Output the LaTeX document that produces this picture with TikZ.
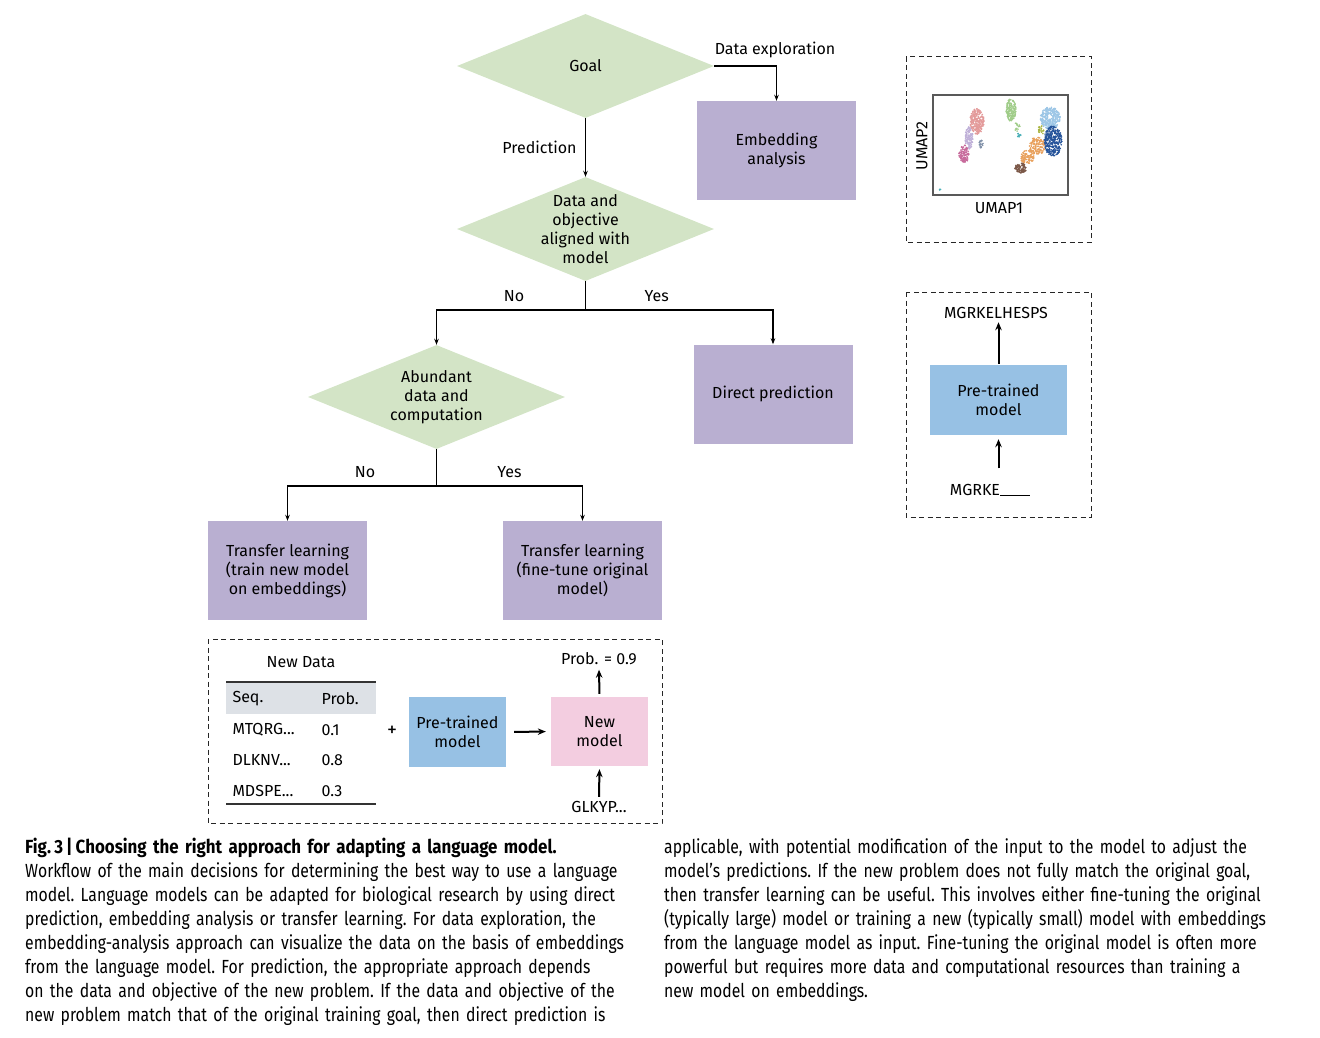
\documentclass[tikz,border=0pt]{standalone}
\usepackage{fontspec}
\setmainfont{Fira Sans}
\newfontfamily\capfont[FakeStretch=0.83,WordSpace=0.62]{Fira Sans}
\newfontfamily\captitle[FakeStretch=0.89,WordSpace=0.62]{Fira Sans}
\usetikzlibrary{shapes.geometric,arrows.meta,positioning}
\definecolor{goalgreen}{HTML}{D3E4C6}
\definecolor{outlav}{HTML}{B9AFD1}
\definecolor{ptblue}{HTML}{97C1E4}
\definecolor{newpink}{HTML}{F3CDE0}
\definecolor{headgray}{HTML}{DDE1E6}
\definecolor{umsalmon}{HTML}{E39A9A}
\definecolor{umlav}{HTML}{BFB0D8}
\definecolor{ummag}{HTML}{C76A9B}
\definecolor{umslate}{HTML}{8090A8}
\definecolor{umgreen}{HTML}{9FCC88}
\definecolor{umteal}{HTML}{4BB0B8}
\definecolor{umlblue}{HTML}{9CC6E6}
\definecolor{umdblue}{HTML}{25539A}
\definecolor{umolive}{HTML}{A8B440}
\definecolor{umorange}{HTML}{E8A05C}
\definecolor{umbrown}{HTML}{7B5848}
\tikzstyle{decision}=[diamond,aspect=2.47,fill=goalgreen,minimum width=257pt,minimum height=104pt,inner xsep=0pt,inner ysep=-3pt,align=center]
\tikzstyle{outcome}=[rectangle,fill=outlav,minimum width=159pt,minimum height=99pt,align=center]
\tikzstyle{model}=[rectangle,minimum width=97pt,minimum height=70pt,align=center]
\tikzstyle{flow}=[-{Stealth[length=6pt,width=4.5pt]},line width=1.1pt]
\tikzstyle{bigarrow}=[-{Stealth[length=8pt,width=6.5pt]},line width=2pt]
\tikzstyle{frame}=[line width=1pt,dash pattern=on 5pt off 3.5pt,draw=black!85]
\tikzstyle{rule}=[line width=1.3pt,draw=black!80]

\begin{document}
\begin{tikzpicture}[x=1pt,y=-1pt,font=\fontsize{16}{19}\selectfont]
\useasboundingbox (0,0) rectangle (1320,1038);

% decision tree
\node[decision] (goal) at (585.5,66) {Goal};
\node[decision] (align) at (585.5,229) {Data and\\objective\\aligned with\\model};
\node[decision] (abund) at (436.5,397) {Abundant\\data and\\computation};
\node[outcome] (emb) at (776.5,150.5) {Embedding\\analysis};
\node[outcome] (direct) at (773,394) {Direct prediction};
\node[outcome] (tlnew) at (287.5,570.5) {Transfer learning\\(train new model\\on embeddings)};
\node[outcome] (tlfine) at (582.5,570.5) {Transfer learning\\(fine-tune original\\model)};
\coordinate (split1) at (585.5,310);
\coordinate (split2) at (436.5,486);

\draw[flow] (goal.east) -| node[pos=0,above right=4pt and 0pt,inner xsep=0pt]{Data exploration} (emb.north);
\draw[flow] (goal.south) -- node[left=5pt]{Prediction} (align.south |- align.north);
\draw[line width=1.1pt] (align.south) -- (split1);
\draw[flow] (split1) -| node[pos=0.24,above=4pt]{No} (abund.north);
\draw[flow] (split1) -| node[pos=0.19,above=4pt]{Yes} (direct.north);
\draw[line width=1.1pt] (abund.south) -- (split2);
\draw[flow] (split2) -| node[pos=0.24,above=4pt]{No} (tlnew.north);
\draw[flow] (split2) -| node[pos=0.25,above=4pt]{Yes} (tlfine.north);

% transfer learning panel
\draw[frame] (208,639) rectangle (662,823);
\node (newdata) at (301,662) {New Data};
\fill[headgray] (226,682) rectangle (376,714);
\draw[rule] (226,682) -- (376,682);
\draw[rule] (226,804) -- (376,804);
\node[anchor=west] (seqhead) at (229,699) {Seq.};
\node[anchor=west] (probhead) at (318,699) {Prob.};
\node[anchor=west] (seqa) at (229,730) {MTQRG...};
\node[anchor=west] (proba) at (318,730) {0.1};
\node[anchor=west] (seqb) at (229,760) {DLKNV...};
\node[anchor=west] (probb) at (318,760) {0.8};
\node[anchor=west] (seqc) at (229,791) {MDSPE...};
\node[anchor=west] (probc) at (318,791) {0.3};
\node[font=\fontsize{20}{20}\selectfont] (plus) at (392,731) {+};
\node[model,fill=ptblue] (pta) at (457.5,732) {Pre-trained\\model};
\node[model,fill=newpink,minimum height=69pt] (newm) at (599.5,731.5) {New\\model};
\node (prob) at (599,659) {Prob. = 0.9};
\node (glk) at (599,807) {GLKYP...};
\draw[bigarrow,shorten <=8pt,shorten >=5pt] (pta.east) -- (newm.west);
\draw[bigarrow,shorten <=3pt,shorten >=1pt] (newm.north) -- (prob.south);
\draw[bigarrow,shorten <=1pt,shorten >=3pt] (glk.north) -- (newm.south);

% embedding panel
\draw[frame] (906,57) rectangle (1091,242);
\pgfmathsetseed{11}
\foreach \cx/\cy/\sx/\sy/\n/\col in {977/121/7/13/260/umsalmon,969/138/4/11/110/umlav,964/154/5/9/110/ummag,981/144/2/4/20/umslate,1011/110/5/11/150/umgreen,1017/127/3/5/15/umgreen,1019/136/2/3/10/umteal,1050/118/10/11/300/umlblue,1053/141/9/15/340/umdblue,1041/130/3/5/20/umolive,1037/146/8/9/140/umorange,1027/157/7/7/100/umorange,1021/168/6/5/90/umbrown,940/190/1/1/3/umteal}{
  \foreach \i in {1,...,\n}{
    \pgfmathsetmacro\rr{sqrt(rnd)}
    \pgfmathsetmacro\aa{360*rnd}
    \fill[\col] ({\cx+\sx*\rr*cos(\aa)},{\cy+\sy*\rr*sin(\aa)}) circle (0.9pt);
  }
}
\draw[line width=1.3pt,draw=black!65] (933,95) rectangle (1068,195);
\node[rotate=90] (umapy) at (922,146) {UMAP2};
\node (umapx) at (999,208) {UMAP1};

% direct prediction panel
\draw[frame] (906,292) rectangle (1091,517);
\node (outseq) at (996,313) {MGRKELHESPS};
\node[model,fill=ptblue,minimum width=137pt] (ptb) at (998.5,400) {Pre-trained\\model};
\node (inseq) at (990,490) {MGRKE\rule[-1pt]{30pt}{0.8pt}};
\draw[bigarrow,shorten <=1pt] (ptb.north) -- (ptb.north |- outseq.south);
\draw[bigarrow,shorten <=12pt,shorten >=4pt] (ptb.south |- inseq.north) -- (ptb.south);

% caption
\node[anchor=north west,inner sep=0pt,text width=630pt,align=left,font=\capfont\fontsize{19}{24}\selectfont\frenchspacing] (capleft) at (25,838) {%
{\captitle\bfseries Fig.\,3\,|\,Choosing the right approach for adapting a language model.}\\
Workflow of the main decisions for determining the best way to use a language\\
model. Language models can be adapted for biological research by using direct\\
prediction, embedding analysis or transfer learning. For data exploration, the\\
embedding-analysis approach can visualize the data on the basis of embeddings\\
from the language model. For prediction, the appropriate approach depends\\
on the data and objective of the new problem. If the data and objective of the\\
new problem match that of the original training goal, then direct prediction is};
\node[anchor=north west,inner sep=0pt,text width=650pt,align=left,font=\capfont\fontsize{19}{24}\selectfont\frenchspacing] (capright) at (664,838) {%
applicable, with potential modification of the input to the model to adjust the\\
model’s predictions. If the new problem does not fully match the original goal,\\
then transfer learning can be useful. This involves either fine-tuning the original\\
(typically large) model or training a new (typically small) model with embeddings\\
from the language model as input. Fine-tuning the original model is often more\\
powerful but requires more data and computational resources than training a\\
new model on embeddings.};
\end{tikzpicture}
\end{document}
